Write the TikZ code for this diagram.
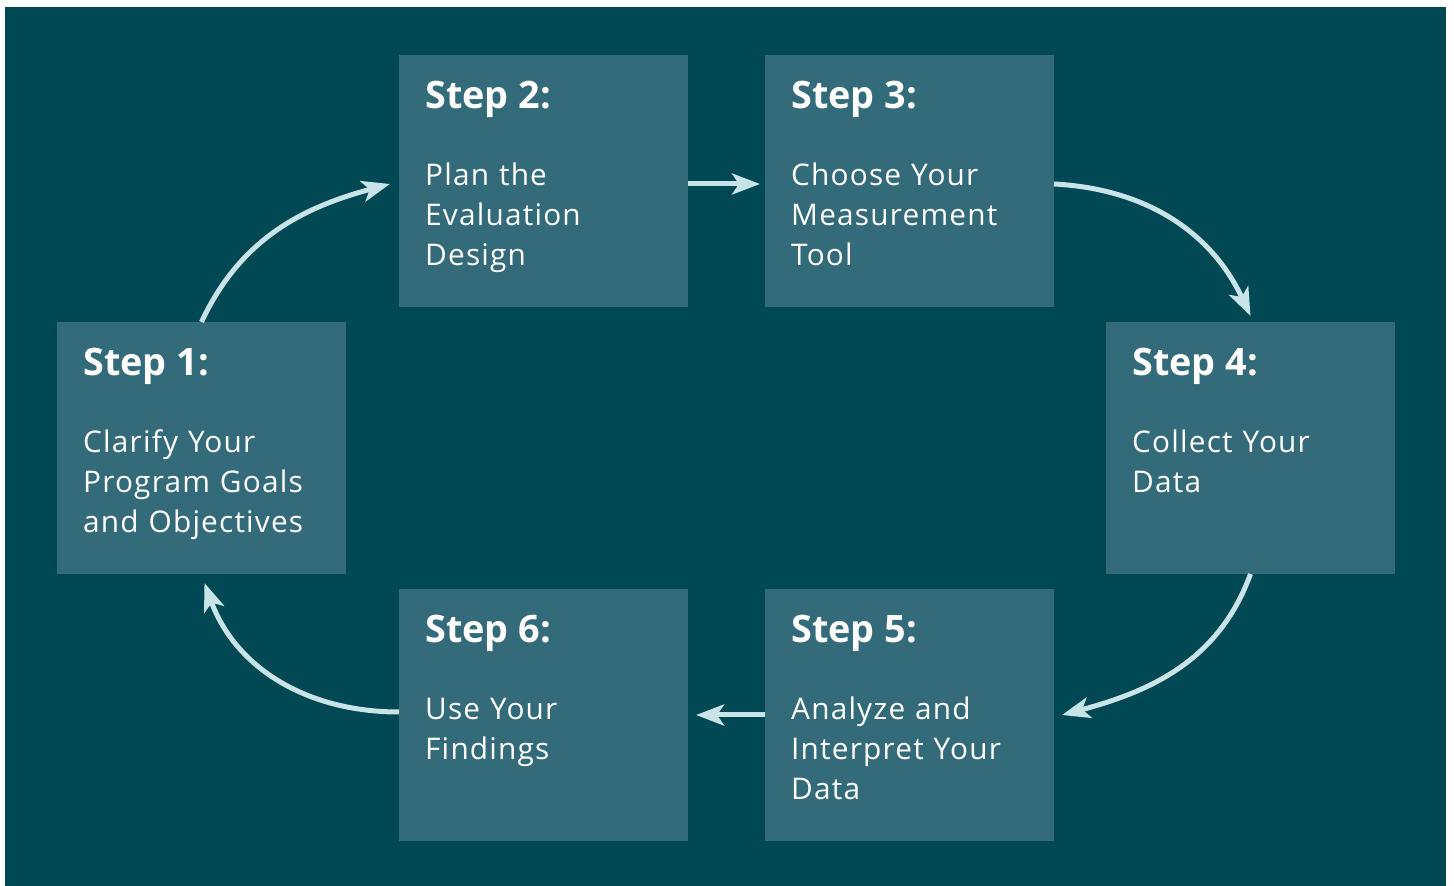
\documentclass[tikz,border=0pt]{standalone}
\usepackage{fontspec}
\setmainfont{Open Sans}
\newfontfamily\bodyfont[LetterSpace=4]{Open Sans}
\usetikzlibrary{positioning,arrows.meta}
\definecolor{bgteal}{RGB}{1,72,85}
\definecolor{boxteal}{RGB}{51,107,122}
\definecolor{arrowblue}{RGB}{200,228,232}
\tikzset{
 stepbox/.style={fill=boxteal, minimum width=289pt, minimum height=252pt, inner sep=0pt, outer sep=0pt},
 steptitle/.style={anchor=base west, inner sep=0pt, text=white, font=\bfseries\fontsize{37.8}{45}\selectfont},
 stepbody/.style={anchor=base west, inner sep=0pt, text=white, text width=255pt, align=left, font=\bodyfont\fontsize{29.8}{40}\selectfont},
 flow/.style={arrowblue, line width=5pt, -{Stealth[length=28pt, width=21pt, inset=7pt]}}
}
\begin{document}
\begin{tikzpicture}[x=1pt, y=1pt]
 \useasboundingbox (0,0) rectangle (1454,886);
 \fill[bgteal] (5,0) rectangle (1446,879);
 % boxes
 \node[stepbox, anchor=north west] (s2) at (399,831) {};
 \node[stepbox, right=77pt of s2] (s3) {};
 \node[stepbox, below=282pt of s2] (s6) {};
 \node[stepbox, below=282pt of s3] (s5) {};
 \node[stepbox, below left=15pt and 53pt of s2] (s1) {};
 \node[stepbox, below right=15pt and 52pt of s3] (s4) {};
 % texts
 \node[steptitle] (t1) at ([shift={(26,-54)}]s1.north west) {Step 1:};
 \node[stepbody] (b1) at ([shift={(26,-131)}]s1.north west) {Clarify Your\\Program Goals\\and Objectives};
 \node[steptitle] (t2) at ([shift={(26,-54)}]s2.north west) {Step 2:};
 \node[stepbody] (b2) at ([shift={(26,-131)}]s2.north west) {Plan the\\Evaluation\\Design};
 \node[steptitle] (t3) at ([shift={(26,-54)}]s3.north west) {Step 3:};
 \node[stepbody] (b3) at ([shift={(26,-131)}]s3.north west) {Choose Your\\Measurement\\Tool};
 \node[steptitle] (t4) at ([shift={(26,-54)}]s4.north west) {Step 4:};
 \node[stepbody] (b4) at ([shift={(26,-131)}]s4.north west) {Collect Your\\Data};
 \node[steptitle] (t5) at ([shift={(26,-54)}]s5.north west) {Step 5:};
 \node[stepbody] (b5) at ([shift={(26,-131)}]s5.north west) {Analyze and\\Interpret Your\\Data};
 \node[steptitle] (t6) at ([shift={(26,-54)}]s6.north west) {Step 6:};
 \node[stepbody] (b6) at ([shift={(26,-131)}]s6.north west) {Use Your\\Findings};
 % arrows
 \draw[flow] (s1.north) to[out=65, in=195] ([shift={(-9,-3)}]s2.west);
 \draw[flow] ([yshift=-3]s2.east) -- ([shift={(-5,-3)}]s3.west);
 \draw[flow] ([yshift=-3]s3.east) to[out=-3, in=115] ([yshift=6]s4.north);
 \draw[flow] (s4.south) to[out=-110, in=15] ([xshift=8]s5.east);
 \draw[flow] (s5.west) -- ([xshift=8]s6.east);
 \draw[flow] ([yshift=3]s6.west) to[out=180, in=-70] ([shift={(3,-9)}]s1.south);
\end{tikzpicture}
\end{document}
